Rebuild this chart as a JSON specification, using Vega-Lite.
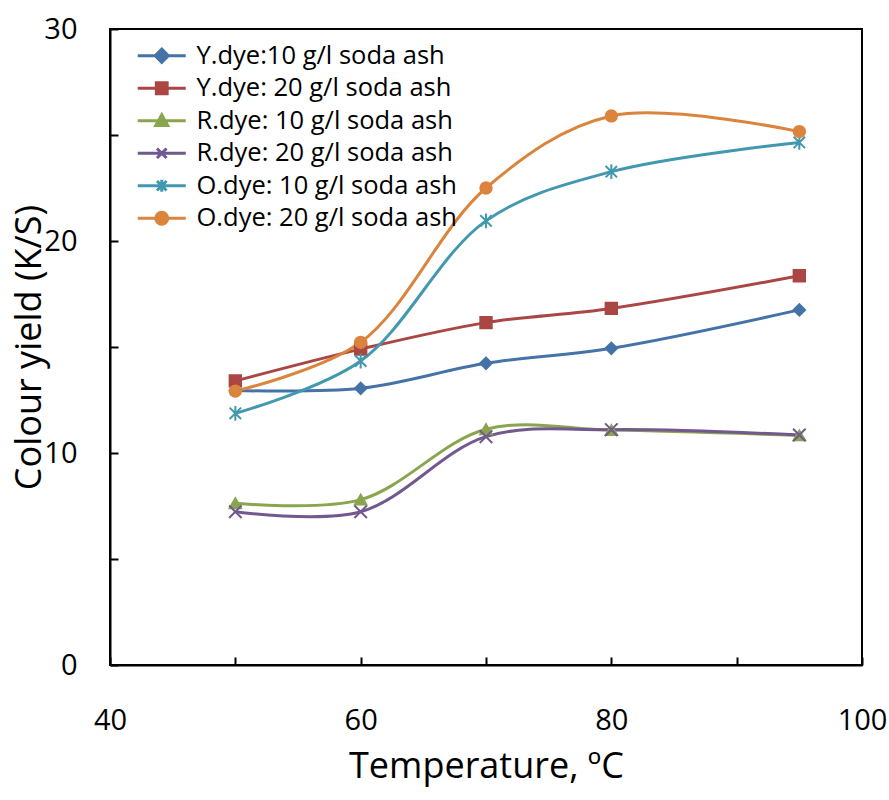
{
  "$schema": "https://vega.github.io/schema/vega-lite/v6.json",
  "width": 752,
  "height": 636,
  "autosize": {"type": "none"},
  "padding": {"left": 110, "top": 29, "right": 27, "bottom": 135},
  "background": "white",
  "config": {
    "font": "Open Sans",
    "view": {"stroke": "black", "strokeWidth": 2},
    "axis": {"grid": false, "domainColor": "black", "domainWidth": 2, "tickColor": "black", "tickWidth": 2, "labelColor": "black", "titleColor": "black", "labelFont": "Open Sans", "titleFont": "Open Sans", "titleFontWeight": "normal", "labelFontSize": 29, "titleFontSize": 36}
  },
  "data": {"values": [
    {"series": "Y.dye:10 g/l soda ash", "T": 50, "KS": 12.95},
    {"series": "Y.dye:10 g/l soda ash", "T": 60, "KS": 13.05},
    {"series": "Y.dye:10 g/l soda ash", "T": 70, "KS": 14.23},
    {"series": "Y.dye:10 g/l soda ash", "T": 80, "KS": 14.94},
    {"series": "Y.dye:10 g/l soda ash", "T": 95, "KS": 16.75},
    {"series": "Y.dye: 20 g/l soda ash", "T": 50, "KS": 13.4},
    {"series": "Y.dye: 20 g/l soda ash", "T": 60, "KS": 14.9},
    {"series": "Y.dye: 20 g/l soda ash", "T": 70, "KS": 16.15},
    {"series": "Y.dye: 20 g/l soda ash", "T": 80, "KS": 16.82},
    {"series": "Y.dye: 20 g/l soda ash", "T": 95, "KS": 18.36},
    {"series": "R.dye: 10 g/l soda ash", "T": 50, "KS": 7.63},
    {"series": "R.dye: 10 g/l soda ash", "T": 60, "KS": 7.8},
    {"series": "R.dye: 10 g/l soda ash", "T": 70, "KS": 11.12},
    {"series": "R.dye: 10 g/l soda ash", "T": 80, "KS": 11.08},
    {"series": "R.dye: 10 g/l soda ash", "T": 95, "KS": 10.83},
    {"series": "R.dye: 20 g/l soda ash", "T": 50, "KS": 7.23},
    {"series": "R.dye: 20 g/l soda ash", "T": 60, "KS": 7.23},
    {"series": "R.dye: 20 g/l soda ash", "T": 70, "KS": 10.77},
    {"series": "R.dye: 20 g/l soda ash", "T": 80, "KS": 11.1},
    {"series": "R.dye: 20 g/l soda ash", "T": 95, "KS": 10.85},
    {"series": "O.dye: 10 g/l soda ash", "T": 50, "KS": 11.87},
    {"series": "O.dye: 10 g/l soda ash", "T": 60, "KS": 14.34},
    {"series": "O.dye: 10 g/l soda ash", "T": 70, "KS": 20.95},
    {"series": "O.dye: 10 g/l soda ash", "T": 80, "KS": 23.27},
    {"series": "O.dye: 10 g/l soda ash", "T": 95, "KS": 24.65},
    {"series": "O.dye: 20 g/l soda ash", "T": 50, "KS": 12.92},
    {"series": "O.dye: 20 g/l soda ash", "T": 60, "KS": 15.22},
    {"series": "O.dye: 20 g/l soda ash", "T": 70, "KS": 22.5},
    {"series": "O.dye: 20 g/l soda ash", "T": 80, "KS": 25.9},
    {"series": "O.dye: 20 g/l soda ash", "T": 95, "KS": 25.16}
  ]},
  "encoding": {
    "x": {"field": "T", "type": "quantitative", "scale": {"domain": [40, 100], "nice": false},
      "axis": {"values": [40, 50, 60, 70, 80, 90, 100], "labelExpr": "datum.value % 20 == 0 ? datum.label : ''", "tickSize": -8, "labelPadding": 49, "labelFlush": false, "labelOverlap": false, "title": "Temperature, ºC", "titlePadding": 14}},
    "y": {"field": "KS", "type": "quantitative", "scale": {"domain": [0, 30], "nice": false},
      "axis": {"values": [0, 5, 10, 15, 20, 25, 30], "labelExpr": "datum.value % 10 == 0 ? datum.label : ''", "tickSize": -8, "labelPadding": 41, "labelFlush": false, "labelOverlap": false, "title": "Colour yield (K/S)", "titlePadding": -5}}
  },
  "layer": [
    {
      "mark": {"type": "line", "interpolate": "catmull-rom", "strokeWidth": 3},
      "encoding": {
        "order": {"field": "T", "type": "quantitative"},
        "color": {"field": "series", "type": "nominal", "legend": null,
          "scale": {"domain": ["Y.dye:10 g/l soda ash", "Y.dye: 20 g/l soda ash", "R.dye: 10 g/l soda ash", "R.dye: 20 g/l soda ash", "O.dye: 10 g/l soda ash", "O.dye: 20 g/l soda ash"], "range": ["#4572A7", "#AA4643", "#89A54E", "#71588F", "#4198AF", "#DB843D"]}}
      }
    },
    {
      "mark": {"type": "point", "filled": true, "opacity": 1, "size": 130, "strokeWidth": 2},
      "encoding": {
        "fill": {"field": "series", "type": "nominal", "legend": null,
          "scale": {"domain": ["Y.dye:10 g/l soda ash", "Y.dye: 20 g/l soda ash", "R.dye: 10 g/l soda ash", "R.dye: 20 g/l soda ash", "O.dye: 10 g/l soda ash", "O.dye: 20 g/l soda ash"], "range": ["#4572A7", "#AA4643", "#89A54E", "#71588F", "#4198AF", "#DB843D"]}},
        "stroke": {"field": "series", "type": "nominal", "legend": null,
          "scale": {"domain": ["Y.dye:10 g/l soda ash", "Y.dye: 20 g/l soda ash", "R.dye: 10 g/l soda ash", "R.dye: 20 g/l soda ash", "O.dye: 10 g/l soda ash", "O.dye: 20 g/l soda ash"], "range": ["#4572A7", "#AA4643", "#89A54E", "#71588F", "#4198AF", "#DB843D"]}},
        "shape": {"field": "series", "type": "nominal", "legend": null,
          "scale": {"domain": ["Y.dye:10 g/l soda ash", "Y.dye: 20 g/l soda ash", "R.dye: 10 g/l soda ash", "R.dye: 20 g/l soda ash", "O.dye: 10 g/l soda ash", "O.dye: 20 g/l soda ash"], "range": ["diamond", "square", "triangle-up", "M-1.1,-1.1L1.1,1.1M-1.1,1.1L1.1,-1.1", "M-1,-1L1,1M-1,1L1,-1M0,-1.3L0,1.3", "circle"]}}
      }
    },
    {
      "mark": {"type": "point", "filled": true, "opacity": 0, "size": 144, "strokeWidth": 3},
      "encoding": {
        "fill": {"field": "series", "type": "nominal",
          "scale": {"domain": ["Y.dye:10 g/l soda ash", "Y.dye: 20 g/l soda ash", "R.dye: 10 g/l soda ash", "R.dye: 20 g/l soda ash", "O.dye: 10 g/l soda ash", "O.dye: 20 g/l soda ash"], "range": ["#4572A7", "#AA4643", "#89A54E", "#71588F", "#4198AF", "#DB843D"]},
          "legend": {"title": null, "orient": "none", "legendX": 39, "legendY": 14, "padding": 0, "labelFontSize": 25.5, "labelFont": "Open Sans", "labelColor": "black", "labelOffset": 22, "rowPadding": 5.5, "symbolOpacity": 1, "symbolStrokeWidth": 3, "symbolSize": 144, "labelLimit": 400}},
        "stroke": {"field": "series", "type": "nominal",
          "scale": {"domain": ["Y.dye:10 g/l soda ash", "Y.dye: 20 g/l soda ash", "R.dye: 10 g/l soda ash", "R.dye: 20 g/l soda ash", "O.dye: 10 g/l soda ash", "O.dye: 20 g/l soda ash"], "range": ["#4572A7", "#AA4643", "#89A54E", "#71588F", "#4198AF", "#DB843D"]},
          "legend": {"title": null, "orient": "none", "legendX": 39, "legendY": 14, "padding": 0, "labelFontSize": 25.5, "labelFont": "Open Sans", "labelColor": "black", "labelOffset": 22, "rowPadding": 5.5, "symbolOpacity": 1, "symbolStrokeWidth": 3, "symbolSize": 144, "labelLimit": 400}},
        "shape": {"field": "series", "type": "nominal",
          "scale": {"domain": ["Y.dye:10 g/l soda ash", "Y.dye: 20 g/l soda ash", "R.dye: 10 g/l soda ash", "R.dye: 20 g/l soda ash", "O.dye: 10 g/l soda ash", "O.dye: 20 g/l soda ash"], "range": ["M-4,0L4,0M0,-1.1L1.1,0L0,1.1L-1.1,0Z", "M-4,0L4,0M-0.9,-0.9L0.9,-0.9L0.9,0.9L-0.9,0.9Z", "M-4,0L4,0M0,-1L1,0.8L-1,0.8Z", "M-4,0L4,0M-0.8,-0.8L0.8,0.8M-0.8,0.8L0.8,-0.8", "M-4,0L4,0M-0.8,-0.8L0.8,0.8M-0.8,0.8L0.8,-0.8M0,-1L0,1", "M-4,0L4,0M-1,0A1,1,0,1,1,1,0A1,1,0,1,1,-1,0Z"]},
          "legend": {"title": null, "orient": "none", "legendX": 39, "legendY": 14, "padding": 0, "labelFontSize": 25.5, "labelFont": "Open Sans", "labelColor": "black", "labelOffset": 22, "rowPadding": 5.5, "symbolOpacity": 1, "symbolStrokeWidth": 3, "symbolSize": 144, "labelLimit": 400}}
      }
    }
  ],
  "resolve": {
    "scale": {"color": "independent", "fill": "independent", "stroke": "independent", "shape": "independent"},
    "legend": {"color": "independent", "fill": "independent", "stroke": "independent", "shape": "independent"}
  }
}
